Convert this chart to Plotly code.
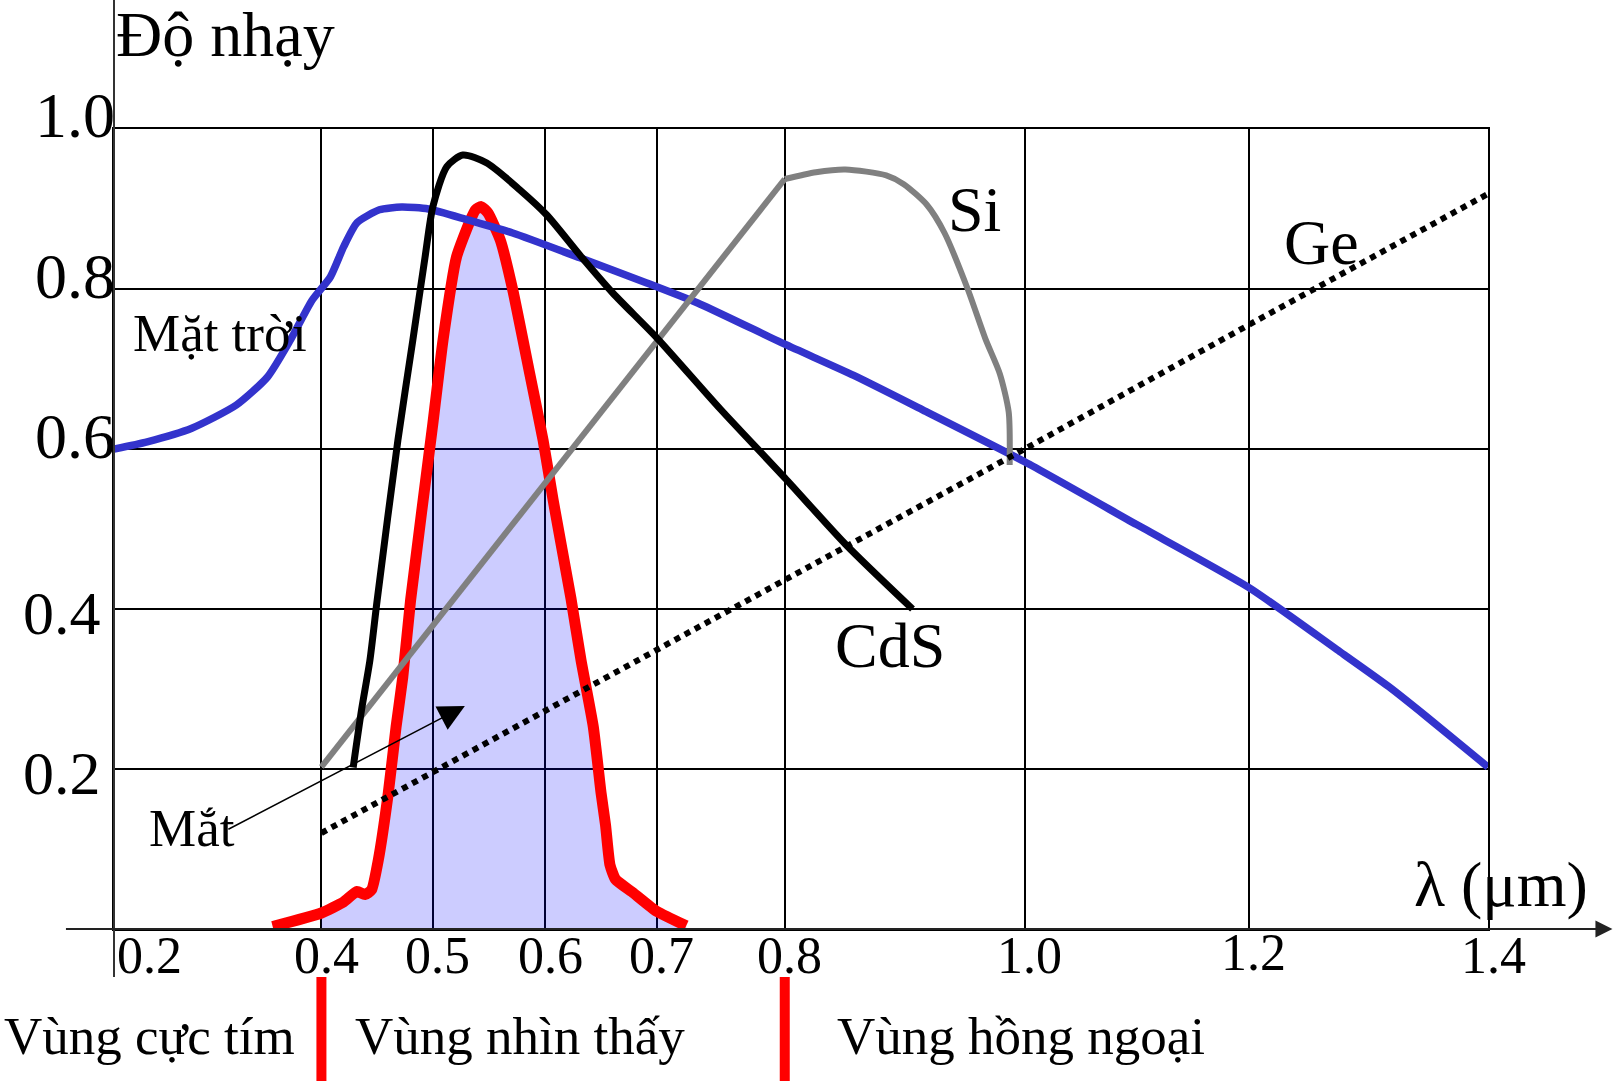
import numpy as np
import plotly.graph_objects as go

W, H = 1614, 1081

# ---- data -------------------------------------------------------------
# x ticks of the hand-drawn (non-uniform) wavelength axis
TICK_LAMBDA = [0.2, 0.4, 0.5, 0.6, 0.7, 0.8, 1.0, 1.2, 1.4]
TICK_LABELS = ["0.2", "0.4", "0.5", "0.6", "0.7", "0.8", "1.0", "1.2", "1.4"]
Y_TICKS = [0.2, 0.4, 0.6, 0.8, 1.0]
Y_LABELS = ["0.2", "0.4", "0.6", "0.8", "1.0"]

# Mặt trời (sun spectrum)
SUN_LAMBDA = [0.2, 0.232, 0.275, 0.318, 0.348, 0.370, 0.391, 0.408, 0.420, 0.432,
              0.452, 0.472, 0.496, 0.532, 0.571, 0.631, 0.691, 0.734, 0.8, 0.8575,
              0.9175, 1.0, 1.1, 1.2, 1.274, 1.317, 1.349, 1.4]
SUN_VALUE = [0.60, 0.609, 0.626, 0.655, 0.69, 0.736, 0.786, 0.815, 0.853, 0.883,
             0.899, 0.9025, 0.90, 0.886, 0.87, 0.839, 0.8075, 0.781, 0.731, 0.692,
             0.647, 0.584, 0.5055, 0.427, 0.349, 0.303, 0.265, 0.2025]

# CdS
CDS_LAMBDA = [0.4285, 0.436, 0.4435, 0.450, 0.4686, 0.482, 0.493, 0.500, 0.5124, 0.5267,
              0.548, 0.5773, 0.6013, 0.6309, 0.6605, 0.700, 0.7496, 0.800, 0.8506, 0.9065]
CDS_VALUE = [0.202, 0.274, 0.336, 0.411, 0.611, 0.736, 0.840, 0.903, 0.953, 0.9675,
             0.9575, 0.924, 0.8925, 0.8425, 0.795, 0.739, 0.650, 0.564, 0.481, 0.400]

# Si
SI_LAMBDA = [0.4, 0.8, 0.826, 0.8506, 0.8846, 0.8992, 0.9186, 0.9332, 0.9525, 0.9672,
             0.9793, 0.9867, 0.9875]
SI_VALUE = [0.2025, 0.9375, 0.946, 0.9495, 0.942, 0.931, 0.905, 0.87, 0.80, 0.738,
            0.694, 0.646, 0.58]

# Ge
GE_LAMBDA = [0.4, 0.5, 0.8, 1.0, 1.2, 1.4]
GE_VALUE = [0.12, 0.196, 0.437, 0.60, 0.755, 0.919]

# Mắt (eye)
EYE_LAMBDA = [0.353, 0.40, 0.420, 0.432, 0.439, 0.445, 0.451, 0.460, 0.467, 0.473,
              0.480, 0.500, 0.509, 0.521, 0.533, 0.538, 0.543, 0.549, 0.560, 0.571,
              0.586, 0.598, 0.607, 0.623, 0.632, 0.643, 0.650, 0.654, 0.658, 0.663,
              0.679, 0.700, 0.723]
EYE_VALUE = [0.003, 0.020, 0.034, 0.047, 0.043, 0.049, 0.086, 0.170, 0.253, 0.315,
             0.411, 0.632, 0.736, 0.840, 0.885, 0.899, 0.903, 0.895, 0.861, 0.799,
             0.695, 0.611, 0.536, 0.413, 0.336, 0.253, 0.170, 0.130, 0.080, 0.062,
             0.045, 0.022, 0.004]

# ---- layout geometry ---------------------------------------------------
L, R, T, B = 114, 1488.5, 129, 929
# horizontal positions of the x gridlines (the drawn scale is not uniform)
TICK_POS = [114, 321.5, 433, 545.5, 657, 785, 1025, 1249, 1488.5]
FONT = "Liberation Serif"


def X(lam):
    return np.interp(np.asarray(lam, dtype=float), TICK_LAMBDA, TICK_POS)


def pp(x, y):
    return (x - L) / (R - L), (B - y) / (B - T)


fig = go.Figure()

eye_fill_lam = [l for l in EYE_LAMBDA if l >= 0.4]
eye_fill_val = [v for l, v in zip(EYE_LAMBDA, EYE_VALUE) if l >= 0.4]
fig.add_trace(go.Scatter(x=X(eye_fill_lam), y=eye_fill_val, mode="lines",
                         line=dict(width=0, shape="spline", smoothing=0.5),
                         fill="tozeroy", fillcolor="rgba(0,0,255,0.2)",
                         hoverinfo="skip", cliponaxis=False))
fig.add_trace(go.Scatter(x=X(EYE_LAMBDA), y=EYE_VALUE, mode="lines",
                         line=dict(color="#FF0000", width=11, shape="spline", smoothing=0.5),
                         cliponaxis=False))
fig.add_trace(go.Scatter(x=X(SUN_LAMBDA), y=SUN_VALUE, mode="lines",
                         line=dict(color="#3333CC", width=7.5, shape="spline", smoothing=0.6),
                         cliponaxis=False))
# Si: straight rising part, then the rounded top
fig.add_trace(go.Scatter(x=X(SI_LAMBDA[:2]), y=SI_VALUE[:2], mode="lines",
                         line=dict(color="#808080", width=6), cliponaxis=False))
fig.add_trace(go.Scatter(x=X(SI_LAMBDA[1:]), y=SI_VALUE[1:], mode="lines",
                         line=dict(color="#808080", width=6, shape="spline", smoothing=0.7),
                         cliponaxis=False))
fig.add_trace(go.Scatter(x=X(CDS_LAMBDA), y=CDS_VALUE, mode="lines",
                         line=dict(color="#000000", width=7, shape="spline", smoothing=0.7),
                         cliponaxis=False))
fig.add_trace(go.Scatter(x=X(GE_LAMBDA), y=GE_VALUE, mode="lines",
                         line=dict(color="#000000", width=6, dash="6px,5.5px"),
                         cliponaxis=False))

ann = []


def text(t, x, y, size, xanchor="center"):
    px_, py_ = pp(x, y)
    ann.append(dict(text=t, x=px_, y=py_, xref="paper", yref="paper",
                    xanchor=xanchor, yanchor="middle", showarrow=False,
                    font=dict(family=FONT, size=size, color="black")))


# x tick labels, tied to the tick values
for i, (lam, lab) in enumerate(zip(TICK_LAMBDA, TICK_LABELS)):
    ann.append(dict(text=lab, x=float(X(lam)), y=pp(0, 952.5 if lab == "1.2" else 955.5)[1],
                    xref="x", yref="paper",
                    xanchor="left" if i == 0 else "center", yanchor="middle",
                    xshift=1 if i == 0 else 5, showarrow=False,
                    font=dict(family=FONT, size=52, color="black")))

# y tick labels
Y_LAB_RIGHT = {"1.0": 117, "0.8": 117, "0.6": 117, "0.4": 103, "0.2": 103}
Y_LAB_SHIFT = {"1.0": -13.5, "0.8": -12.5, "0.6": -13, "0.4": 3.5, "0.2": 3.5}
for v, lab in zip(Y_TICKS, Y_LABELS):
    ann.append(dict(text=lab, x=pp(Y_LAB_RIGHT[lab], 0)[0], y=v, xref="paper", yref="y",
                    xanchor="right", yanchor="middle", yshift=-Y_LAB_SHIFT[lab],
                    showarrow=False,
                    font=dict(family=FONT, size=64 if v >= 0.6 else 62, color="black")))

text("Độ nhạy", 114, 34, 64, "left")
text("λ (μm)", 1502, 884, 64)
text("Mặt trời", 220, 332.5, 53)
text("Mắt", 192, 828, 53)
text("Si", 975, 210, 64)
text("Ge", 1322, 243, 64)
text("CdS", 890.5, 645, 64)
text("Vùng cực tím", 150, 1035.5, 53)
text("Vùng nhìn thấy", 520.5, 1035.5, 53)
text("Vùng hồng ngoại", 1021, 1035.5, 53)

# arrow from "Mắt" to the filled area
tx, ty = pp(465, 706)
ann.append(dict(text="", x=tx, y=ty, xref="paper", yref="paper",
                showarrow=True, ax=227 - 465, ay=830 - 706,
                arrowhead=2, arrowsize=3.5, arrowwidth=1.5, arrowcolor="black",
                standoff=0))
# x-axis arrow
ax_x, ax_y = pp(1613, 929)
ann.append(dict(text="", x=ax_x, y=ax_y, xref="paper", yref="paper",
                showarrow=True, ax=65 - 1613, ay=0,
                arrowhead=2, arrowsize=1.7, arrowwidth=2, arrowcolor="#222222",
                standoff=0))

shapes = []
# extended left axis line
x0, y0 = pp(114, 0)
x1, y1 = pp(114, 977)
shapes.append(dict(type="line", xref="paper", yref="paper", x0=x0, y0=y0, x1=x1, y1=y1,
                   line=dict(color="#333333", width=2)))
# red region separators
for lam in [0.4, 0.8]:
    xr = pp(float(X(lam)), 0)[0]
    shapes.append(dict(type="line", xref="paper", yref="paper",
                       x0=xr, x1=xr, y0=pp(0, 977)[1], y1=pp(0, 1081)[1],
                       line=dict(color="#FF0000", width=10)))

fig.update_layout(
    width=W, height=H,
    margin=dict(l=L, r=W - R, t=T, b=H - B, pad=0),
    paper_bgcolor="white", plot_bgcolor="white",
    showlegend=False,
    annotations=ann, shapes=shapes,
    xaxis=dict(range=[TICK_POS[0], TICK_POS[-1]], tickvals=TICK_POS, showticklabels=False,
               ticks="", showgrid=True, gridcolor="black", gridwidth=2, zeroline=False,
               showline=True, mirror=True, linecolor="black", linewidth=2, fixedrange=True),
    yaxis=dict(range=[0, 1], tickvals=Y_TICKS, showticklabels=False, ticks="",
               showgrid=True, gridcolor="black", gridwidth=2, zeroline=False,
               showline=True, mirror=True, linecolor="black", linewidth=2, fixedrange=True),
    hovermode=False,
)

fig.write_html("out.html", config={"displayModeBar": False},
               post_script="document.body.style.margin='0';document.body.style.overflow='hidden';")
